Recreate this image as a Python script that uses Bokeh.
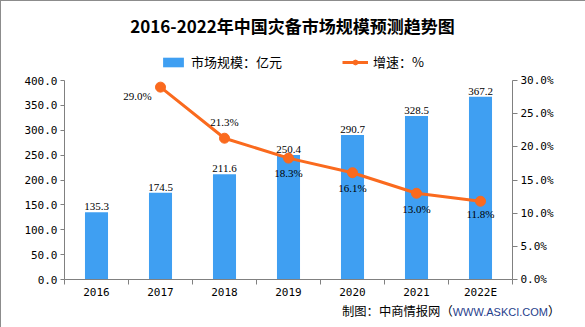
from bokeh.plotting import figure
from bokeh.layouts import column
from bokeh.models import (ColumnDataSource, Range1d, LinearAxis, FixedTicker, PrintfTickFormatter,
                          LabelSet, Label, Legend, LegendItem, Div)
from bokeh.embed import file_html
from bokeh.resources import INLINE

# ---- data ----
categories = ["2016", "2017", "2018", "2019", "2020", "2021", "2022E"]
market_size = [135.3, 174.5, 211.6, 250.4, 290.7, 328.5, 367.2]
growth_categories = ["2017", "2018", "2019", "2020", "2021", "2022E"]
growth_rate = [29.0, 21.3, 18.3, 16.1, 13.0, 11.8]
left_max = 400
right_max = 30
left_ticks = [0, 50, 100, 150, 200, 250, 300, 350, 400]
right_ticks = [0, 5, 10, 15, 20, 25, 30]

# ---- styles ----
BAR = "#3F9FF2"
LINE = "#FA6A1E"
AXIS = "#808080"
NUMFONT = "DejaVu Sans Mono"
CJK = "Noto Sans CJK SC"
growth_label_dx = [-23, 0, 0, 0, 0, 0]
growth_label_dy = [-9, 16, -15, -15, -16, -13]

W = 574
H1, H2 = 302, 22
FL, FR, FT, FB = 63, 511, 0, 278   # frame edges inside the bordered box; value axes from y=79 to y=278
AX_TOP = 79
scale = (FB - FT) / (FB - AX_TOP)
p = figure(width=W, height=H1, output_backend="svg", toolbar_location=None,
           x_range=Range1d(0, len(categories)), y_range=Range1d(0, left_max * scale),
           min_border_left=FL, min_border_right=W - FR, min_border_top=FT, min_border_bottom=H1 - FB)
p.xaxis.visible = False
p.yaxis.visible = False
p.xgrid.visible = False
p.ygrid.visible = False
p.outline_line_color = None
p.extra_y_ranges = {"rate": Range1d(0, right_max * scale)}

xpos = [i + 0.5 for i in range(len(categories))]
bar_src = ColumnDataSource(dict(x=xpos, y=market_size, lab=["%.1f" % v for v in market_size]))
gx = [categories.index(c) + 0.5 for c in growth_categories]
line_src = ColumnDataSource(dict(x=gx, y=growth_rate, lab=["%.1f%%" % v for v in growth_rate],
                                 dx=growth_label_dx, dy=growth_label_dy))

bars = p.vbar(x="x", top="y", width=0.36, source=bar_src, fill_color=BAR, line_color=None)
ln = p.line(x="x", y="y", source=line_src, y_range_name="rate", line_color=LINE, line_width=3)
sc = p.scatter(x="x", y="y", source=line_src, y_range_name="rate", size=10,
               fill_color=LINE, line_color=LINE)

p.add_layout(LabelSet(x="x", y="y", text="lab", source=bar_src, text_align="center",
                      text_baseline="bottom", y_offset=2, text_font=NUMFONT,
                      text_font_size="11px", text_color="black"))
p.add_layout(LabelSet(x="x", y="y", text="lab", source=line_src, y_range_name="rate",
                      text_align="center", text_baseline="middle", x_offset="dx", y_offset="dy",
                      text_font=NUMFONT, text_font_size="11px", text_color="black"))

# axes
xa = LinearAxis(ticker=FixedTicker(ticks=xpos, minor_ticks=list(range(len(categories) + 1))),
                major_label_overrides={x: c for x, c in zip(xpos, categories)})
xa.major_tick_in = 0
xa.major_tick_out = 0
xa.minor_tick_in = 0
xa.minor_tick_out = 5
p.add_layout(xa, "below")

ya = LinearAxis(ticker=FixedTicker(ticks=left_ticks, minor_ticks=[]), bounds=(0, left_max),
                formatter=PrintfTickFormatter(format="%.1f"))
ya.major_tick_in = 0
ya.major_tick_out = 4
p.add_layout(ya, "left")

yb = LinearAxis(y_range_name="rate", ticker=FixedTicker(ticks=right_ticks, minor_ticks=[]),
                bounds=(0, right_max), formatter=PrintfTickFormatter(format="%.1f%%"))
yb.major_tick_in = 0
yb.major_tick_out = 5
p.add_layout(yb, "right")

for ax in (xa, ya, yb):
    ax.axis_line_color = AXIS
    ax.major_tick_line_color = AXIS
    ax.minor_tick_line_color = AXIS
    ax.major_label_text_font = NUMFONT
    ax.major_label_text_font_size = "11px"
    ax.major_label_text_color = "black"
    ax.major_label_standoff = 3
xa.major_label_standoff = 1

legend = Legend(items=[LegendItem(label="市场规模：亿元", renderers=[bars]),
                       LegendItem(label="增速：%", renderers=[ln, sc])],
                orientation="horizontal", location=(96, 208),
                glyph_width=26, glyph_height=12, label_standoff=5, spacing=60,
                padding=0, margin=0, border_line_color=None, background_fill_alpha=0,
                label_text_font=CJK, label_text_font_size="13px", label_text_color="black")
p.add_layout(legend)

# title inside the (extended) frame, screen units relative to the frame
p.add_layout(Label(x=291 - FL, y=FB - 24, x_units="screen", y_units="screen",
                   text="2016-2022年中国灾备市场规模预测趋势图",
                   text_align="center", text_baseline="middle", text_font=CJK,
                   text_font_size="17px", text_font_style="bold", text_color="black"))

footer_html = ('<div style="position:relative;top:-6px;left:336px;width:236px;line-height:18px;'
               'font-family:&quot;Noto Sans CJK SC&quot;;font-size:12.3px;white-space:nowrap;color:#000">'
               '制图：中商情报网（<span style="font-family:&quot;Liberation Sans&quot;,Arial,sans-serif;'
               'font-size:11px;color:#1F3E8C">WWW.ASKCI.COM</span>）</div>')
footer = Div(text=footer_html, width=W, height=H2)

layout = column(p, footer, spacing=0, styles={"border": "1px solid #8c8c8c"})
open("out.html", "w").write(file_html(layout, INLINE))
